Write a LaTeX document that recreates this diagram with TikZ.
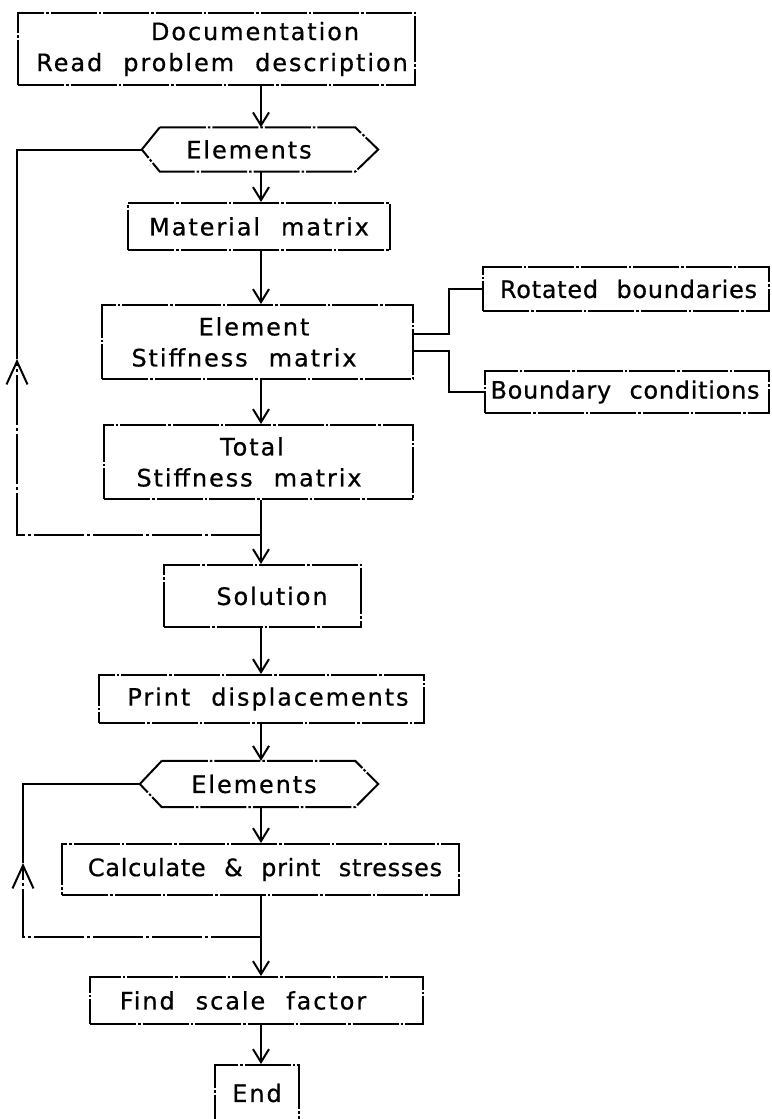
\documentclass[tikz,border=0pt]{standalone}
\usepackage{fontspec}
\setmainfont{DejaVu Sans}[LetterSpace=8,WordSpace=2.2,FakeBold=0.6]
\newfontfamily\tightfont{DejaVu Sans}[LetterSpace=3,WordSpace=2.2,FakeBold=0.6]
\usetikzlibrary{arrows.meta,calc}
\newcommand\myfs{\fontsize{24}{31}\selectfont}
\newcommand\sh[1]{\hspace*{#1}}
\begin{document}
\begin{tikzpicture}[x=1pt,y=-1pt,
  ln/.style={line width=2pt},
  bl/.style={ln, dash pattern=on 46pt off 2pt on 2.5pt off 2pt},
  box/.style={bl, draw, inner sep=0pt, align=center, font=\myfs},
  hexlab/.style={inner sep=0pt, align=center, font=\myfs},
  arr/.style={ln, -{Straight Barb[length=13pt,width=16pt,line width=2pt]}},
  looparr/.style={ln, -{Straight Barb[length=23pt,width=21pt,line width=2pt]}}]
\useasboundingbox[fill=white] (0,0) rectangle (771,1119);
% nodes
\node[box, minimum width=397pt, minimum height=72pt] (doc) at (216.5,49) {\sh{77pt}Documentation\\\sh{11pt}Read problem description};
\node[hexlab, minimum width=195pt, minimum height=44pt] (h1) at (257.5,149.5) {Elements\sh{17pt}};
\node[box, minimum width=262pt, minimum height=47pt] (mat) at (259,226.5) {Material matrix};
\node[box, minimum width=311pt, minimum height=74pt] (elem) at (257.5,342) {Element\sh{7pt}\\Stiffness matrix\sh{27pt}};
\node[box, minimum width=286pt, minimum height=44pt, font=\myfs\tightfont] (rot) at (626,289) {\sh{5pt}Rotated boundaries};
\node[box, minimum width=284pt, minimum height=42pt, font=\myfs\tightfont] (bnd) at (627,392) {Boundary conditions\sh{4pt}};
\node[box, minimum width=309pt, minimum height=74pt] (tot) at (258.5,462) {Total\sh{13pt}\\Stiffness matrix\sh{19pt}};
\node[box, minimum width=197pt, minimum height=62pt] (sol) at (262.5,596) {\sh{19pt}Solution};
\node[box, minimum width=325pt, minimum height=48pt] (prt) at (261.5,699) {\sh{13pt}Print displacements};
\node[hexlab, minimum width=193pt, minimum height=46pt] (h2) at (258.5,784) {Elements\sh{9pt}};
\node[box, minimum width=397pt, minimum height=51pt, font=\myfs\tightfont] (calc) at (260.5,869.5) {\sh{9pt}Calculate \& print stresses};
\node[box, minimum width=333pt, minimum height=47pt] (find) at (256.5,1000.5) {Find scale factor\sh{27pt}};
\node[box, minimum width=84pt, minimum height=65pt] (end) at (257,1097.5) {};
\node[hexlab] (endt) at (257,1093) {End};
% hexagons
\coordinate (h1tip) at ($(h1.west)+(-18,0)$);
\coordinate (h2tip) at ($(h2.west)+(-22,0)$);
\draw[bl] (h1.north west) -- (h1.north east) -- ($(h1.east)+(23,0)$) -- (h1.south east) -- (h1.south west) -- (h1tip) -- cycle;
\draw[bl] (h2.north west) -- (h2.north east) -- ($(h2.east)+(23,0)$) -- (h2.south east) -- (h2.south west) -- (h2tip) -- cycle;
% main flow
\coordinate (m) at (261,0);
\coordinate (j1) at (261,535);
\coordinate (up1) at (17,359);
\coordinate (j2) at (261,937);
\coordinate (up2) at (23,863);
\draw[arr] (doc.south -| m) -- (h1.north -| m);
\draw[arr] (h1.south -| m) -- (mat.north -| m);
\draw[arr] (mat.south -| m) -- (elem.north -| m);
\draw[arr] (elem.south -| m) -- (tot.north -| m);
\draw[ln] (tot.south -| m) -- (j1);
\draw[arr] (j1) -- (sol.north -| m);
\draw[arr] (sol.south -| m) -- (prt.north -| m);
\draw[arr] (prt.south -| m) -- (h2.north -| m);
\draw[arr] (h2.south -| m) -- (calc.north -| m);
\draw[ln] (calc.south -| m) -- (j2);
\draw[arr] (j2) -- (find.north -| m);
\draw[arr] (find.south -| m) -- (end.north -| m);
% loops
\draw[looparr, dash pattern=on 50pt off 3pt on 3pt off 3pt] (j1) -| (up1);
\draw[ln] (up1) |- (h1tip);
\draw[looparr, dash pattern=on 50pt off 3pt on 3pt off 3pt] (j2) -| (up2);
\draw[ln] (up2) |- (h2tip);
% side connectors
\draw[ln] ($(elem.east)+(0,-8)$) -- ++(35,0) |- (rot.west);
\draw[ln] ($(elem.east)+(0,9)$) -- ++(35,0) |- (bnd.west);
\end{tikzpicture}
\end{document}
